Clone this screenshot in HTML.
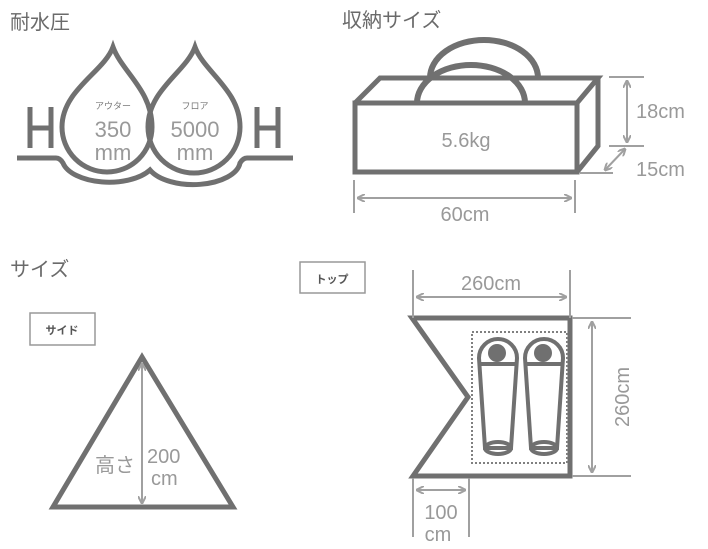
<!DOCTYPE html>
<html><head><meta charset="utf-8"><style>
html,body{margin:0;padding:0;background:#fff;width:708px;height:549px;overflow:hidden}
svg{display:block}
text{font-family:"Liberation Sans","Noto Sans CJK JP",sans-serif}
</style></head><body>
<svg width="708" height="549" viewBox="0 0 708 549" xmlns="http://www.w3.org/2000/svg">
<defs>
<marker id="a" markerWidth="8" markerHeight="8" refX="7" refY="4" orient="auto-start-reverse" markerUnits="userSpaceOnUse"><path d="M0,0 L8,4 L0,8" fill="none" stroke="#a0a0a0" stroke-width="2"/></marker>
</defs>
<text x="10" y="29" font-size="20" fill="#6a6a6a">耐水圧</text>
<text x="342" y="27" font-size="20" fill="#6a6a6a">収納サイズ</text>
<text x="10" y="276" font-size="20" fill="#6a6a6a">サイズ</text>

<g fill="none" stroke="#707070" stroke-width="5">
<path d="M113,47 C104,72 62,90 62,127 A45,45 0 0 0 152,127 C152,90 122,72 113,47 Z"/>
<path d="M195,47 C186,72 148,90 148,127 A46,46 0 0 0 240,127 C240,90 204,72 195,47 Z"/>
<path d="M17,158 L56,158 Q60,158 63,163 A47,24 0 0 0 150,170 A47,24 0 0 0 240,163 Q243,158 247,158 L293,158"/>
<path d="M30,107 V148 M51,107 V148 M30,128 H51"/>
<path d="M257,107 V148 M278,107 V148 M257,128 H278"/>
</g>
<text x="113" y="109" font-size="9" fill="#777" text-anchor="middle">アウター</text>
<text x="113" y="137" font-size="22" fill="#999" text-anchor="middle">350</text>
<text x="113" y="160" font-size="22" fill="#999" text-anchor="middle">mm</text>
<text x="195" y="109" font-size="9" fill="#777" text-anchor="middle">フロア</text>
<text x="195" y="137" font-size="22" fill="#999" text-anchor="middle">5000</text>
<text x="195" y="160" font-size="22" fill="#999" text-anchor="middle">mm</text>

<g fill="none" stroke="#707070" stroke-width="6">
<path d="M430,78 A54,38 0 0 1 538,78"/>
<path d="M417,103 A54,38 0 0 1 525,103"/>
</g>
<g fill="none" stroke="#707070" stroke-width="5">
<rect x="355" y="103" width="222" height="69"/>
<path d="M355,103 L380,78 L598,78 L577,103 M598,78 L598,146 L577,172"/>
</g>
<text x="466" y="147" font-size="20" fill="#999" text-anchor="middle">5.6kg</text>
<g stroke="#a0a0a0" stroke-width="2" fill="none">
<path d="M609,77 H644 M609,146 H644 M580,173 H613"/>
<path d="M627,81 V142" marker-start="url(#a)" marker-end="url(#a)"/>
<path d="M605,170 L625,149" marker-start="url(#a)" marker-end="url(#a)"/>
<path d="M354,180 V213 M575,180 V213"/>
<path d="M358,198 H571" marker-start="url(#a)" marker-end="url(#a)"/>
</g>
<text x="636" y="118" font-size="20" fill="#999">18cm</text>
<text x="636" y="176" font-size="20" fill="#999">15cm</text>
<text x="465" y="221" font-size="20" fill="#999" text-anchor="middle">60cm</text>

<rect x="30" y="313" width="65" height="32" fill="none" stroke="#999" stroke-width="1.5"/>
<text x="62" y="334" font-size="11" fill="#555" text-anchor="middle" font-weight="bold">サイド</text>
<path d="M142,357 L53,507 L233,507 Z" fill="none" stroke="#707070" stroke-width="5"/>
<path d="M142,364 V503" stroke="#a0a0a0" stroke-width="2" marker-start="url(#a)" marker-end="url(#a)"/>
<text x="115" y="472" font-size="20" fill="#999" text-anchor="middle">高さ</text>
<text x="147" y="463" font-size="20" fill="#999">200</text>
<text x="151" y="485" font-size="20" fill="#999">cm</text>

<rect x="300" y="262" width="65" height="31" fill="none" stroke="#999" stroke-width="1.5"/>
<text x="332" y="283" font-size="11" fill="#555" text-anchor="middle" font-weight="bold">トップ</text>
<path d="M412,318 L570,318 L570,476 L413,476 L468,397 Z" fill="none" stroke="#707070" stroke-width="5"/>
<rect x="472" y="332" width="95" height="131" fill="none" stroke="#808080" stroke-width="2" stroke-dasharray="2,2"/>
<g fill="none" stroke="#707070" stroke-width="4">
<path d="M479,358 A19,19 0 0 1 517,358 L511,448 L485,448 Z"/>
<path d="M525,358 A19,19 0 0 1 563,358 L557,448 L531,448 Z"/>
<path d="M480,364 H516 M526,364 H562"/>
<ellipse cx="498" cy="448" rx="13" ry="6"/>
<ellipse cx="544" cy="448" rx="13" ry="6"/>
</g>
<circle cx="497" cy="353" r="9" fill="#707070"/>
<circle cx="543" cy="353" r="9" fill="#707070"/>
<g stroke="#a0a0a0" stroke-width="2" fill="none">
<path d="M413,270 V318 M570,270 V318"/>
<path d="M417,297 H566" marker-start="url(#a)" marker-end="url(#a)"/>
<path d="M572,318 H631 M572,476 H631"/>
<path d="M592,322 V472" marker-start="url(#a)" marker-end="url(#a)"/>
<path d="M413,478 V537 M469,478 V537"/>
<path d="M417,490 H465" marker-start="url(#a)" marker-end="url(#a)"/>
</g>
<text x="491" y="290" font-size="20" fill="#999" text-anchor="middle">260cm</text>
<text x="0" y="0" font-size="20" fill="#999" text-anchor="middle" transform="translate(629,397) rotate(-90)">260cm</text>
<text x="441" y="519" font-size="20" fill="#999" text-anchor="middle">100</text>
<text x="438" y="541" font-size="20" fill="#999" text-anchor="middle">cm</text>
</svg>
</body></html>
